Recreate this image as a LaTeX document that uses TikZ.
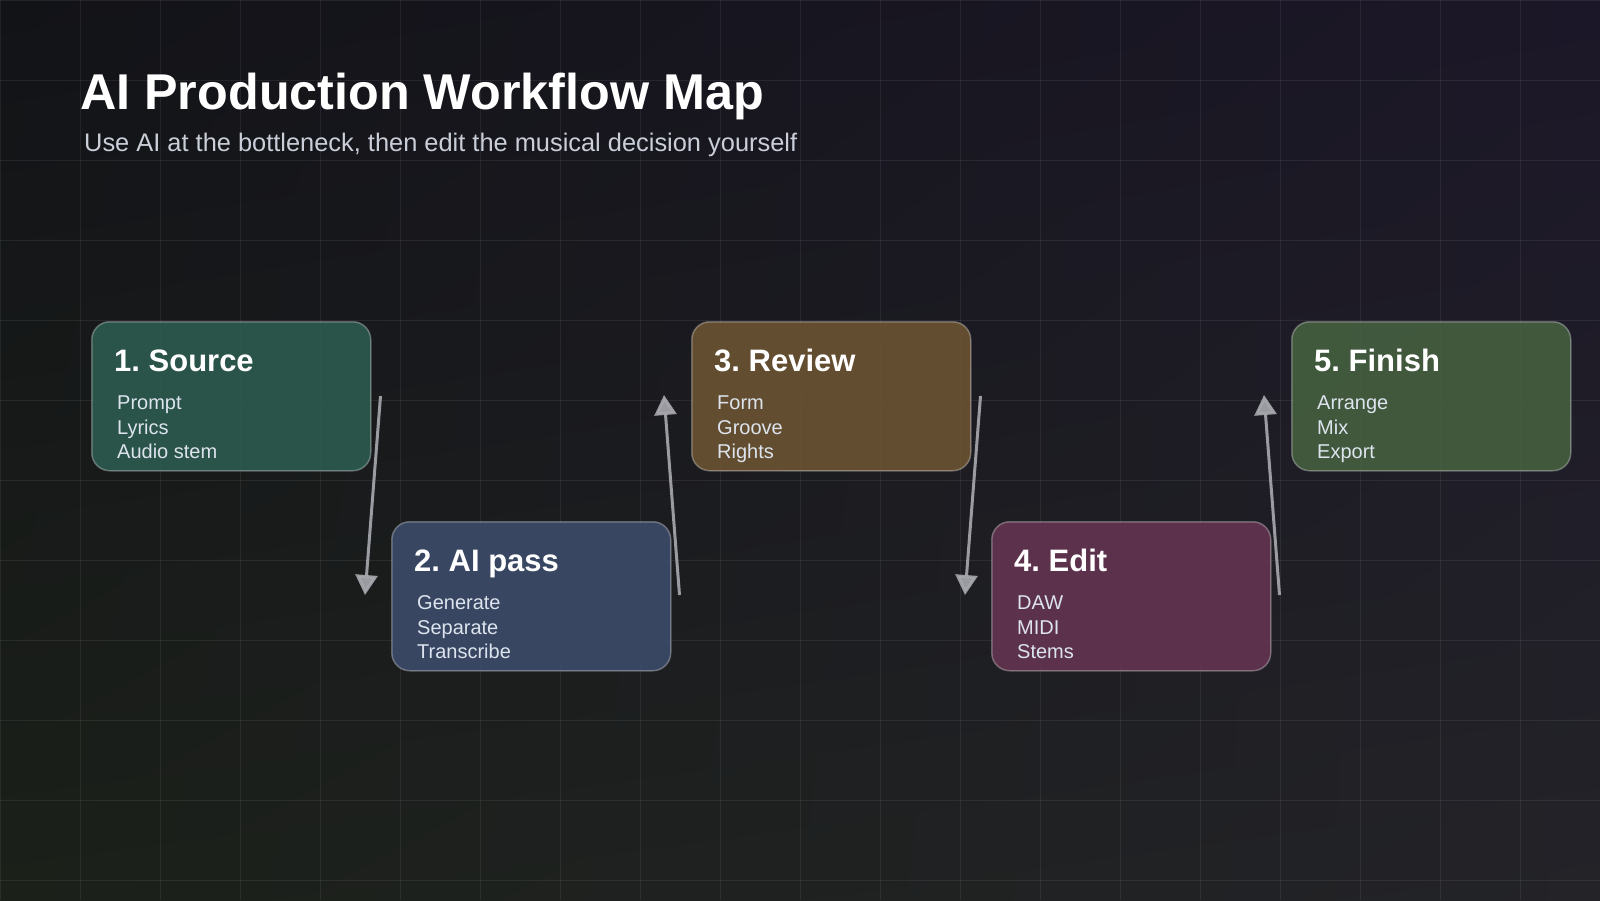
\documentclass[tikz,border=0pt]{standalone}
\usepackage{fontspec}
\setmainfont{Liberation Sans}
\usetikzlibrary{arrows.meta,positioning,calc,shadings}
\definecolor{bgTL}{HTML}{121317}
\definecolor{bgTR}{HTML}{1C1728}
\definecolor{bgBL}{HTML}{1B2019}
\definecolor{bgBR}{HTML}{232328}
\definecolor{subText}{HTML}{C9CED8}
\definecolor{itemText}{HTML}{DDE4EE}
\definecolor{arrowGray}{HTML}{A8A9AF}
\definecolor{srcColor}{HTML}{2C5A4E}
\definecolor{aiColor}{HTML}{3B4A68}
\definecolor{revColor}{HTML}{6A5232}
\definecolor{editColor}{HTML}{62334F}
\definecolor{finColor}{HTML}{445E3F}
\frenchspacing

\begin{document}
\begin{tikzpicture}[
  x=1pt, y=-1pt,
  gridline/.style={white, opacity=0.07, line width=1pt},
  stepbox/.style={draw=white, draw opacity=0.3, fill opacity=0.92, line width=1.5pt,
    rounded corners=18pt, minimum width=279pt, minimum height=149pt,
    anchor=north west, inner sep=0pt},
  boxtitle/.style={anchor=base west, inner sep=0pt, text=white, font=\fontsize{31}{37}\selectfont\bfseries},
  boxitem/.style={anchor=base west, inner sep=0pt, text=itemText, font=\fontsize{20}{24}\selectfont},
  flow/.style={-{Triangle[width=22pt,length=20pt]}, line width=3pt, draw=arrowGray, fill=arrowGray, opacity=0.9},
]
  \useasboundingbox (0,0) rectangle (1600,900);

  % Background and grid
  \shade[upper left=bgTL, upper right=bgTR, lower left=bgBL, lower right=bgBR] (0,0) rectangle (1600,900);
  \foreach \gx in {0,80,...,1600} {
    \draw[gridline] (\gx,0) -- (\gx,900);
  }
  \foreach \gy in {0,80,...,880} {
    \draw[gridline] (0,\gy) -- (1600,\gy);
  }

  % Heading
  \node[anchor=base west, inner sep=0pt, text=white, font=\fontsize{50.3}{60}\selectfont\bfseries]
    (title) at (80,109) {AI Production Workflow Map};
  \node[anchor=base west, inner sep=0pt, text=subText, font=\fontsize{25.4}{30}\selectfont]
    (subtitle) at (84,151) {Use AI at the bottleneck, then edit the musical decision yourself};

  % Steps
  \foreach \i/\x/\y/\col/\ttl/\a/\b/\c in {
      1/91/321/srcColor/Source/Prompt/Lyrics/Audio stem,
      2/391/521/aiColor/AI pass/Generate/Separate/Transcribe,
      3/691/321/revColor/Review/Form/Groove/Rights,
      4/991/521/editColor/Edit/DAW/MIDI/Stems,
      5/1291/321/finColor/Finish/Arrange/Mix/Export} {
    \node[stepbox, fill=\col] (s\i) at (\x,\y) {};
    \node[boxtitle] (t\i) at ($(s\i.north west)+(23,50)$) {\i. \ttl};
    \node[boxitem] (a\i) at ($(s\i.north west)+(26,88)$) {\a};
    \node[boxitem] (b\i) at ($(s\i.north west)+(26,113)$) {\b};
    \node[boxitem] (c\i) at ($(s\i.north west)+(26,137)$) {\c};
  }

  % Arrows
  \draw[flow] ($(s1.north east)+(9,75)$) -- ($(s2.north west)+(-26,74)$);
  \draw[flow] ($(s2.north east)+(8,74)$) -- ($(s3.north west)+(-27,74)$);
  \draw[flow] ($(s3.north east)+(9,75)$) -- ($(s4.north west)+(-26,74)$);
  \draw[flow] ($(s4.north east)+(8,74)$) -- ($(s5.north west)+(-27,74)$);
\end{tikzpicture}
\end{document}
